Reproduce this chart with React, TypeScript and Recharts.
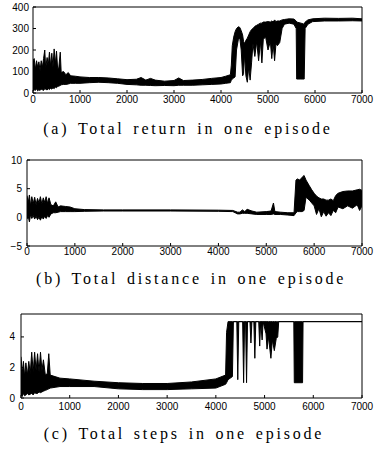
import React from 'react';
import { Area, ComposedChart, XAxis, YAxis } from 'recharts';

const episodeTicks = [0, 1000, 2000, 3000, 4000, 5000, 6000, 7000];

// (a) total return: band of low/high per episode
const returnEpisode = [
  0, 25, 50, 75, 100, 125, 150, 175, 200, 225,
  250, 270, 300, 325, 350, 375, 400, 425, 450, 475,
  500, 525, 550, 580, 600, 650, 700, 750, 800, 900,
  1000, 1200, 1400, 1600, 1800, 2000, 2200, 2300, 2400, 2500,
  2600, 2800, 3000, 3100, 3200, 3400, 3600, 3800, 4000, 4100,
  4200, 4220, 4240, 4270, 4300, 4330, 4370, 4400, 4430, 4460,
  4480, 4500, 4530, 4560, 4590, 4620, 4650, 4680, 4720, 4760,
  4800, 4840, 4870, 4900, 4950, 5000, 5050, 5080, 5110, 5140,
  5170, 5200, 5250, 5300, 5350, 5450, 5550, 5600, 5610, 5700,
  5770, 5790, 5850, 5950, 6200, 6500, 6800, 7000,
];
const returnLow = [
  10, 15, 12, 20, 10, 15, 12, 18, 15, 12,
  20, 18, 14, 20, 16, 22, 18, 25, 20, 28,
  25, 30, 32, 35, 38, 40, 40, 42, 45, 45,
  45, 48, 50, 48, 45, 40, 38, 36, 36, 35,
  34, 35, 34, 36, 36, 36, 38, 40, 42, 45,
  48, 60, 65, 70, 75, 200, 250, 255, 200, 80,
  90, 180, 80, 50, 120, 60, 140, 230, 170, 240,
  150, 240, 140, 250, 260, 200, 240, 160, 230, 150,
  230, 220, 235, 300, 320, 325, 320, 300, 65, 65,
  65, 300, 320, 332, 335, 335, 336, 335,
];
const returnHigh = [
  150, 160, 110, 150, 120, 145, 105, 150, 120, 160,
  200, 115, 165, 130, 190, 125, 185, 120, 205, 135,
  195, 110, 120, 190, 95, 100, 85, 95, 80, 78,
  75, 72, 72, 70, 66, 62, 64, 72, 60, 68,
  60, 55, 58, 70, 58, 60, 63, 68, 72, 78,
  85, 130, 220, 260, 285, 300, 308, 305, 290, 270,
  240, 230, 245, 255, 270, 285, 295, 300, 310, 315,
  320, 325, 325, 330, 330, 332, 330, 335, 330, 340,
  332, 335, 335, 340, 342, 345, 344, 335, 330, 325,
  320, 330, 340, 345, 348, 347, 348, 345,
];

// (b) total distance
const distanceEpisode = [
  0, 25, 50, 75, 100, 130, 160, 190, 220, 250,
  280, 310, 340, 370, 400, 430, 460, 500, 550, 600,
  650, 700, 800, 900, 1000, 1200, 1600, 2000, 3000, 4000,
  4300, 4400, 4450, 4500, 4550, 4600, 4700, 4800, 5000, 5100,
  5150, 5180, 5300, 5450, 5580, 5620, 5650, 5700, 5750, 5790,
  5830, 5900, 5950, 6000, 6050, 6100, 6150, 6200, 6250, 6300,
  6350, 6400, 6450, 6500, 6600, 6700, 6800, 6900, 6950, 7000,
];
const distanceLow = [
  -0.3, 0.2, -0.8, 0.5, -0.2, 0.3, -0.3, 0.2, -0.4, 0.0,
  -0.5, 0.1, -0.3, 0.2, -0.2, 0.3, 0.0, 0.6, 0.8, 0.8,
  0.9, 1.0, 1.0, 1.0, 1.0, 1.05, 1.1, 1.1, 1.1, 1.05,
  1.0, 0.6, 0.6, 0.7, 0.7, 0.7, 0.6, 0.5, 0.5, 0.5,
  0.6, 0.5, 0.5, 0.4, 0.3, 0.8, 1.0, 1.0, 1.0, 1.2,
  3.5, 3.0, 2.5, 2.0, 0.5, 1.5, 0.1, 1.0, 0.2, 0.8,
  0.3, 1.2, 0.8, 1.8, 1.5, 2.0, 1.6, 2.2, 1.2, 2.0,
];
const distanceHigh = [
  3.8, 2.5, 3.9, 2.0, 3.6, 2.4, 3.5, 2.2, 3.3, 2.5,
  3.6, 2.3, 3.4, 2.6, 3.6, 2.4, 3.4, 2.2, 2.0, 2.7,
  1.8, 2.0, 1.9, 1.8, 1.5, 1.35, 1.3, 1.3, 1.3, 1.25,
  1.2, 0.9, 0.9, 1.3, 1.0, 1.4, 1.1, 0.9, 1.0, 1.1,
  2.5, 1.0, 0.9, 0.8, 0.8, 6.5, 6.7, 6.5, 7.0, 7.3,
  6.5, 5.5, 4.8, 4.2, 3.7, 3.4, 3.2, 3.2, 3.0, 3.0,
  3.2, 2.9, 3.8, 4.2, 4.5, 4.6, 4.6, 4.8, 4.9, 4.7,
];

// (c) total steps
const stepsEpisode = [
  0, 25, 50, 75, 100, 130, 160, 190, 220, 250,
  280, 310, 340, 370, 400, 430, 460, 500, 540, 570,
  600, 700, 800, 1000, 1500, 2000, 2500, 3000, 3500, 4000,
  4200, 4220, 4250, 4340, 4360, 4430, 4450, 4470, 4550, 4570,
  4590, 4610, 4630, 4650, 4700, 4720, 4740, 4780, 4800, 4820,
  4880, 4900, 4920, 4950, 4970, 5030, 5050, 5080, 5130, 5160,
  5200, 5240, 5270, 5290, 5600, 5610, 5780, 5790, 7000,
];
const stepsLow = [
  0.2, 0.1, 0.3, 0.15, 0.2, 0.3, 0.2, 0.25, 0.3, 0.2,
  0.35, 0.3, 0.3, 0.4, 0.35, 0.4, 0.45, 0.5, 0.55, 0.6,
  0.65, 0.7, 0.75, 0.75, 0.75, 0.6, 0.55, 0.55, 0.6, 0.65,
  0.9, 1.0, 1.2, 1.4, 5, 5, 1.2, 5, 5, 1.0,
  5, 5, 1.0, 5, 5, 3.6, 5, 5, 2.6, 5,
  5, 3.4, 5, 3.8, 5, 4.2, 3.2, 4.0, 2.6, 3.8,
  3.1, 3.9, 4.0, 5, 5, 1.0, 1.0, 5, 5,
];
const stepsHigh = [
  2.7, 1.6, 2.4, 1.4, 2.3, 1.5, 2.4, 1.6, 3.0, 1.7,
  3.0, 1.8, 2.9, 1.7, 3.0, 1.8, 2.5, 1.5, 1.6, 2.9,
  1.5, 1.4, 1.3, 1.25, 1.1, 1.0, 0.95, 0.95, 1.05, 1.25,
  1.5, 4.3, 5, 5, 5, 5, 5, 5, 5, 5,
  5, 5, 5, 5, 5, 5, 5, 5, 5, 5,
  5, 5, 5, 5, 5, 5, 5, 5, 5, 5,
  5, 5, 5, 5, 5, 5, 5, 5, 5,
];

const toRows = (ep: number[], lo: number[], hi: number[]) =>
  ep.map((e, i) => ({ episode: e, band: [lo[i], hi[i]] }));

const tickFont = { fontFamily: '"Liberation Sans", Arial, sans-serif', fontSize: 10, fill: '#000' };
const minusFormat = (v: number) => (v < 0 ? `\u2212${Math.abs(v)}` : `${v}`);

type PanelProps = {
  top: number;
  height: number;
  marginTop: number;
  axisWidth: number;
  yDomain: [number, number];
  yTicks: number[];
  rows: { episode: number; band: number[] }[];
  xGap: number;
  yGap: number;
};

const Panel = ({ top, height, marginTop, axisWidth, yDomain, yTicks, rows, xGap, yGap }: PanelProps) => (
  <div style={{ position: 'absolute', left: 0, top }}>
    <ComposedChart width={377} height={height} data={rows} margin={{ top: marginTop, right: 14, bottom: 0, left: 0 }}>
      <XAxis dataKey="episode" type="number" domain={[0, 7000]} ticks={episodeTicks} interval={0}
        tickSize={-3} tickMargin={xGap} height={20} stroke="#000" tick={tickFont} allowDataOverflow />
      <XAxis xAxisId="top" orientation="top" type="number" domain={[0, 7000]} ticks={episodeTicks} interval={0}
        tickSize={-3} height={1} stroke="#000" tick={false} allowDataOverflow />
      <YAxis type="number" domain={yDomain} ticks={yTicks} interval={0} width={axisWidth}
        tickSize={-3} tickMargin={yGap} stroke="#000" tick={tickFont} tickFormatter={minusFormat} allowDataOverflow />
      <YAxis yAxisId="right" orientation="right" type="number" domain={yDomain} ticks={yTicks} interval={0}
        width={1} tickSize={-3} stroke="#000" tick={false} allowDataOverflow />
      <Area dataKey="band" type="linear" stroke="#000" strokeWidth={1} fill="#000" fillOpacity={1}
        isAnimationActive={false} dot={false} activeDot={false} />
    </ComposedChart>
  </div>
);

const captionStyle: React.CSSProperties = {
  position: 'absolute',
  width: 300,
  textAlign: 'center',
  fontFamily: '"Liberation Serif", "Times New Roman", serif',
  fontSize: 16,
  lineHeight: '16px',
  letterSpacing: 2.8,
  wordSpacing: 2,
  color: '#000',
  whiteSpace: 'nowrap',
};

export default function App() {
  return (
    <div style={{ position: 'absolute', left: 0, top: 0, width: 377, height: 451, background: '#fff' }}>
      <Panel top={0} height={113} marginTop={6} axisWidth={33} yDomain={[0, 400]} yTicks={[0, 100, 200, 300, 400]}
        rows={toRows(returnEpisode, returnLow, returnHigh)} xGap={6} yGap={7} />
      <div style={{ ...captionStyle, left: 38, top: 120.5 }}>(a) Total return in one episode</div>

      <Panel top={150} height={116} marginTop={9} axisWidth={27} yDomain={[-5, 10]} yTicks={[-5, 0, 5, 10]}
        rows={toRows(distanceEpisode, distanceLow, distanceHigh)} xGap={5} yGap={8} />
      <div style={{ ...captionStyle, left: 36, top: 270.5 }}>(b) Total distance in one episode</div>

      <Panel top={300} height={118} marginTop={13} axisWidth={21} yDomain={[0, 5.5]} yTicks={[0, 2, 4]}
        rows={toRows(stepsEpisode, stepsLow, stepsHigh)} xGap={8} yGap={9} />
      <div style={{ ...captionStyle, left: 34, top: 425.5 }}>(c) Total steps in one episode</div>
    </div>
  );
}
